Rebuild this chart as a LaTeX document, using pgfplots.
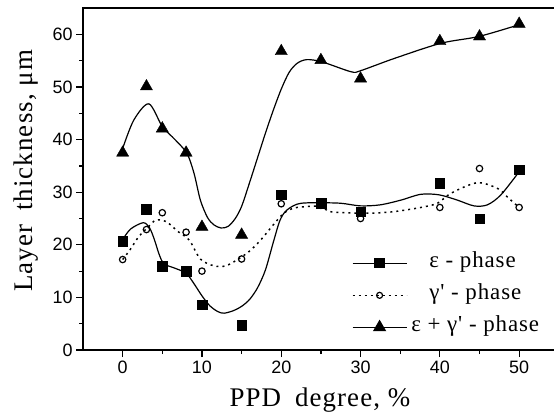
\documentclass[border=0pt]{standalone}
\usepackage{fontspec}
\setmainfont{Liberation Serif}
\newfontfamily\tickfont{Liberation Sans}
\newfontfamily\labfont[LetterSpace=4]{Liberation Serif}
\newfontfamily\legfont[LetterSpace=4]{Liberation Serif}
\usepackage{pgfplots}
\pgfplotsset{compat=1.18}

\begin{document}
\begin{tikzpicture}[x=1bp,y=1bp]
\useasboundingbox (0,0) rectangle (554,412);
\begin{axis}[
  at={(83bp,62bp)}, anchor=south west,
  scale only axis, width=475.8bp, height=341.9bp,
  xmin=-5, xmax=55, ymin=0, ymax=65,
  xtick={0,10,...,50}, ytick={0,10,...,60},
  minor x tick num=1, minor y tick num=1,
  tick pos=left, tick align=outside,
  major tick length=7bp, minor tick length=4bp,
  axis line style={line width=1.5bp},
  every tick/.style={black, line width=1.2bp},
  tick label style={font=\fontsize{18}{18}\selectfont\tickfont},
  /pgf/number format/assume math mode=true,
  xlabel={PPD\hspace*{14bp}degree, \%},
  xlabel style={font=\fontsize{27}{27}\selectfont\labfont, anchor=base,
    at={(axis description cs:0.498,-0.164)}},
  ylabel={Layer\hspace*{14bp}thickness, μm},
  ylabel style={font=\fontsize{27}{27}\selectfont\labfont, anchor=base, rotate=0,
    at={(axis description cs:-0.106,0.524)}},
  legend style={draw=none, fill=none, at={(axis cs:28.5,18.7)}, anchor=north west,
    font=\fontsize{23}{23}\selectfont\legfont, row sep=13bp,
    nodes={inner sep=0pt, text height=14bp, text depth=5bp}},
  legend cell align=left,
  legend image code/.code={\draw[mark repeat=2,mark phase=2,#1] plot coordinates {(0bp,0bp) (27bp,0bp) (54bp,0bp)};
    \path (76bp,0bp);},
]
% legend entries
\addlegendimage{black, line width=1.2bp, mark=square*, mark size=4.5bp}
\addlegendentry{ε - phase}
\addlegendimage{black, line width=1.5bp, dash pattern=on 2bp off 4bp, mark=o, mark size=3bp, mark options={solid, fill=white, line width=1.2bp}}
\addlegendentry{γ' - phase}
\addlegendimage{black, line width=1.2bp, mark=triangle*, mark size=6.5bp}
\addlegendentry{\hspace*{-18bp}ε + γ' - phase}

% fitted curves
\addplot[black, line width=1.2bp, smooth, forget plot] coordinates {
 (0,21.0) (1,23.0) (2.6,24.2) (3.4,23.2) (4.0,21.0) (4.6,18.2) (5.2,16.4)
 (6.5,15.6) (8,14.6) (9,12.6) (10,10.3) (11,8.4) (12,7.3) (12.8,7.0)
 (14,7.5) (15,8.3) (16,9.6) (17,11.8) (18,15.2) (19,20.5) (19.8,24.5)
 (20.5,26.3) (21.5,27.4) (22.5,27.9) (24.5,28.0) (27.5,27.9) (30,27.4)
 (32.5,27.6) (35.1,28.5) (37.6,29.6) (39.9,29.5) (42.2,28.5) (44.3,27.4)
 (46,27.6) (47.7,29.5) (50,33.9) };
\addplot[black, line width=1.5bp, dash pattern=on 2bp off 4bp, smooth, forget plot] coordinates {
 (0,17.2) (1,19.2) (2,21.5) (3.3,23.5) (4.2,24.7) (5.5,24.4) (7,22.5)
 (8.4,20.9) (9.8,17.3) (11.5,16.0) (13,16.0) (14.7,17.4) (16,18.8)
 (17.4,20.9) (19.5,24.7) (20.6,26.3) (22,27.1) (24.9,27.3) (26.2,26.3)
 (29.9,26.0) (31.3,26.0) (34.2,26.3) (37.6,27.1) (39.7,27.9) (41.4,29.8)
 (44.7,31.8) (47.3,30.7) (48.5,29.1) (50,27.1) };
\addplot[black, line width=1.2bp, smooth, forget plot] coordinates {
 (0,38.3) (1.4,43.7) (3.3,46.8) (5,42.5) (6.6,40.0) (8.1,37.4) (9.0,33.6)
 (9.8,28.5) (10.7,25.2) (11.5,23.8) (12.4,23.2) (13.3,23.5) (14.2,25.0)
 (15,27.3) (16,31.8) (17,36.5) (18,41.2) (19,45.6) (20,49.6) (21,52.8)
 (22,54.5) (23.2,55.2) (25.1,54.8) (28.8,52.9) (30,53.1) (34.2,55.4)
 (40.1,58.3) (44.9,59.6) (49.9,61.8) };

% measured points
\addplot[only marks, mark=square*, mark size=4.8bp, forget plot] coordinates {
 (0,20.7) (3,26.8) (5,15.9) (8,15.0) (10,8.6) (15,4.7) (20,29.5)
 (25,27.9) (30,26.3) (40,31.7) (45,25.0) (50,34.3) };
\addplot[only marks, mark=o, mark size=3.2bp, mark options={fill=white, line width=1.2bp}, forget plot] coordinates {
 (0,17.2) (3,22.9) (5,26.1) (8,22.4) (10,15.0) (15,17.3) (20,27.8)
 (25,27.5) (30,25.0) (40,27.1) (45,34.5) (50,27.1) };
\addplot[only marks, mark=triangle*, mark size=7bp, forget plot] coordinates {
 (0,37.5) (3,50.1) (5,42.1) (8,37.5) (10,23.4) (15,21.9) (20,56.8)
 (25,55.1) (30,51.6) (40,58.7) (45,59.6) (50,62.0) };
\end{axis}
\end{tikzpicture}
\end{document}
